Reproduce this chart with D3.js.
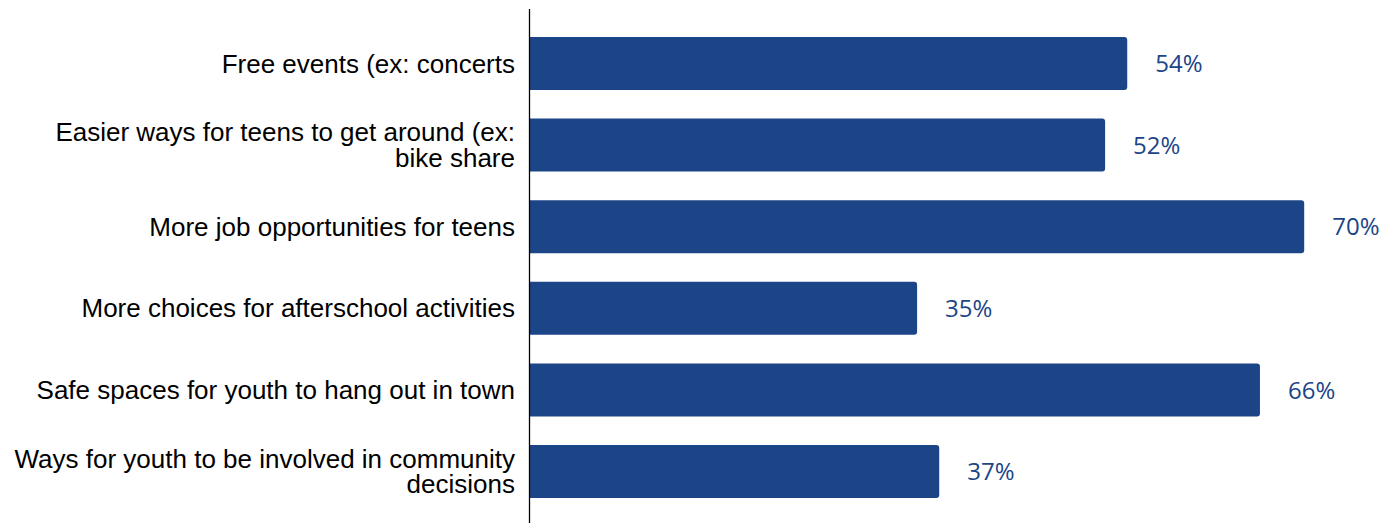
<!DOCTYPE html>
<html>
<head>
<meta charset="utf-8">
<script src="https://cdn.jsdelivr.net/npm/d3@7"></script>
<style>
  html, body { margin: 0; padding: 0; background: #ffffff; }
  svg { display: block; }
</style>
</head>
<body>
<svg id="chart" width="1386" height="523"></svg>
<script>
// Survey responses: what would make the town better for teens
const categories = [
  ["Free events (ex: concerts"],
  ["Easier ways for teens to get around (ex:", "bike share"],
  ["More job opportunities for teens"],
  ["More choices for afterschool activities"],
  ["Safe spaces for youth to hang out in town"],
  ["Ways for youth to be involved in community", "decisions"]
];
const values = [54, 52, 70, 35, 66, 37];
const valueLabels = ["54%", "52%", "70%", "35%", "66%", "37%"];

const W = 1386, H = 523;
const barColor = "#1c4587";
const axisX = 530;

const svg = d3.select("#chart");
const ids = categories.map((_, i) => i);

const x = d3.scaleLinear().domain([0, 80]).range([axisX, axisX + 80 * 11.06]);
const y = d3.scaleBand().domain(ids).range([22.7, 512.3]).paddingInner(0.35).paddingOuter(0.175);

// Bars with slightly rounded right ends
const r = 3;
svg.append("g").selectAll("path").data(ids).join("path")
  .attr("fill", barColor)
  .attr("d", i => {
    const x0 = x(0), x1 = x(values[i]), y0 = y(i), y1 = y(i) + y.bandwidth();
    return `M${x0},${y0}H${x1 - r}Q${x1},${y0} ${x1},${y0 + r}V${y1 - r}Q${x1},${y1} ${x1 - r},${y1}H${x0}Z`;
  });

// Value labels
svg.append("g").selectAll("text").data(ids).join("text")
  .attr("x", i => x(values[i]) + 28)
  .attr("y", i => y(i) + y.bandwidth() / 2)
  .attr("dy", "0.36em")
  .attr("font-family", "'Open Sans', sans-serif")
  .attr("font-size", 24)
  .attr("fill", barColor)
  .text(i => valueLabels[i]);

// Category labels, possibly on two lines
const lineH = 25.5;
const lab = svg.append("g").selectAll("text").data(ids).join("text")
  .attr("text-anchor", "end")
  .attr("font-family", "'Liberation Sans', Arial, sans-serif")
  .attr("font-size", 26)
  .attr("fill", "#000");
lab.each(function(i) {
  const lines = categories[i];
  const cy = y(i) + y.bandwidth() / 2;
  const top = cy - (lines.length - 1) * lineH / 2;
  d3.select(this).selectAll("tspan").data(lines).join("tspan")
    .attr("x", 515)
    .attr("y", (d, k) => top + k * lineH)
    .attr("dy", "0.35em")
    .text(d => d);
});

// Category axis line
svg.append("line")
  .attr("x1", axisX - 0.5).attr("x2", axisX - 0.5)
  .attr("y1", 9).attr("y2", H)
  .attr("stroke", "#000").attr("stroke-width", 1.3);
</script>
</body>
</html>
